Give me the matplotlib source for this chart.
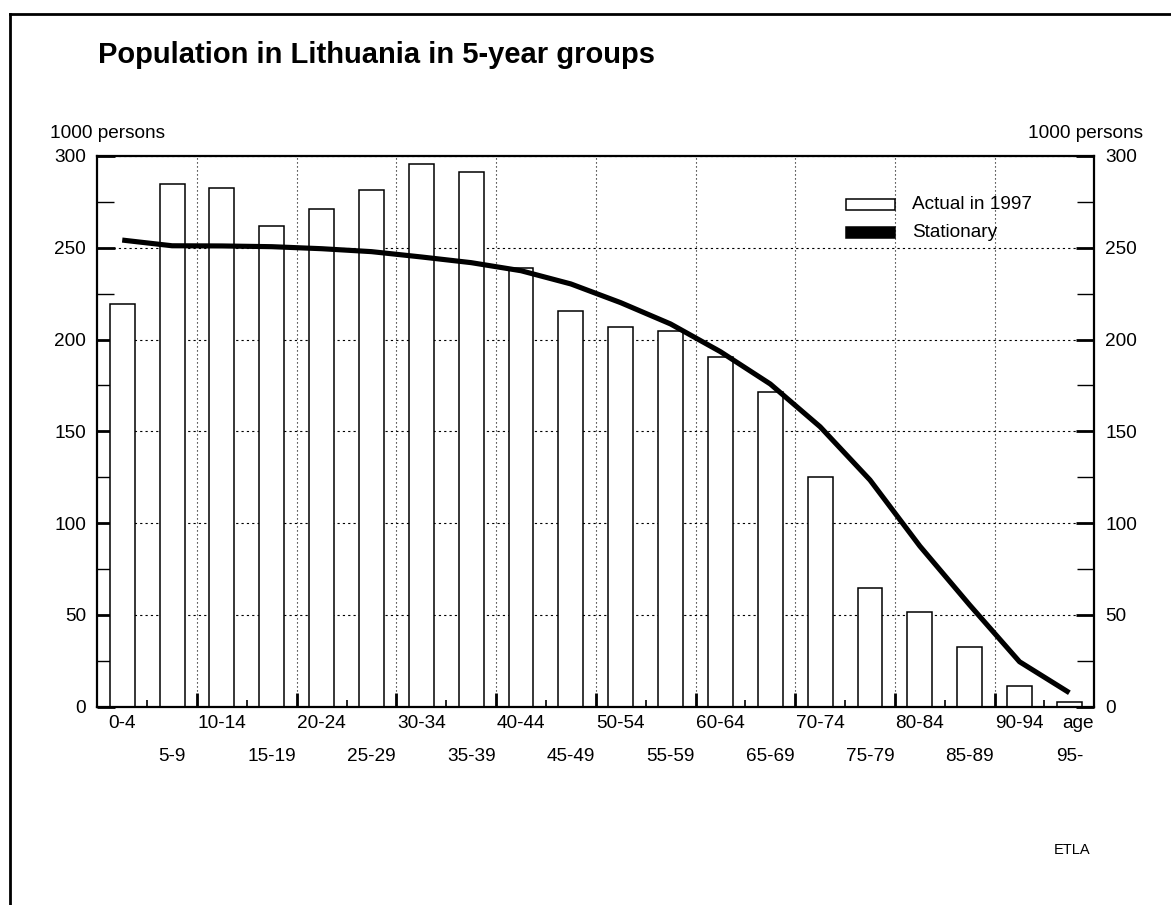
import matplotlib
matplotlib.use("Agg")
import matplotlib.pyplot as plt
from matplotlib.patches import Rectangle
from matplotlib.lines import Line2D
import numpy as np

plt.rcParams['font.family'] = ['Liberation Sans', 'DejaVu Sans']

age_groups = ["0-4", "5-9", "10-14", "15-19", "20-24", "25-29", "30-34", "35-39",
              "40-44", "45-49", "50-54", "55-59", "60-64", "65-69", "70-74", "75-79",
              "80-84", "85-89", "90-94", "95-"]
actual_1997 = [219.5, 284.9, 282.4, 261.7, 270.9, 281.6, 295.6, 291.3, 239.2, 215.6,
               206.8, 204.8, 190.5, 171.3, 125.3, 64.8, 51.8, 32.5, 11.4, 2.7]
stationary = [254.2, 251.1, 251.0, 250.6, 249.5, 247.9, 245.0, 241.9, 237.5, 230.3,
              220.1, 208.5, 193.4, 175.8, 152.5, 123.5, 87.5, 55.4, 24.5, 7.6]
y_ticks = [0, 50, 100, 150, 200, 250, 300]

FS = 13.7
fig = plt.figure(figsize=(11.71, 9.05), dpi=100)
ax = fig.add_axes([97.3/1171, 1-706.7/905, 997/1171, 550.7/905])

n = len(age_groups)
centers = np.arange(n) + 0.5

ax.bar(centers, actual_1997, width=0.5, facecolor='white', edgecolor='black',
       linewidth=1.1, zorder=2)
ax.plot(centers, stationary, color='black', linewidth=3.7, zorder=3,
        solid_joinstyle='round', solid_capstyle='butt')

ax.set_xlim(0, n)
ax.set_ylim(0, 300)

# y axis ticks both sides
ax.set_yticks(y_ticks)
ax.set_yticks(np.arange(25, 300, 50), minor=True)
ax.tick_params(axis='y', which='both', direction='in', left=True, right=True,
               labelleft=True, labelright=True, labelsize=FS, pad=8)
ax.tick_params(axis='y', which='major', length=13, width=2.0)
ax.tick_params(axis='y', which='minor', length=12, width=1.0)

# x axis tick marks at group boundaries
ax.set_xticks(np.arange(2, n, 2))
ax.set_xticks(np.arange(1, n, 2), minor=True)
ax.tick_params(axis='x', which='major', direction='in', length=10, width=2.0,
               labelbottom=False)
ax.tick_params(axis='x', which='minor', direction='in', length=5, width=1.2,
               labelbottom=False)

# grid
ax.set_axisbelow(True)
ax.yaxis.grid(True, which='major', color='black', linewidth=0.8,
              linestyle=(0, (2.0, 2.8)))
ax.xaxis.grid(True, which='major', color='black', linewidth=0.8,
              linestyle=(0, (1.0, 2.6)))

for s in ax.spines.values():
    s.set_linewidth(1.6)

# category labels in two rows
sec = ax.secondary_xaxis('bottom')
sec.spines['bottom'].set_visible(False)
top_pos = list(centers[0::2]) + [19.68]
top_lab = age_groups[0::2] + ["age"]
sec.set_xticks(top_pos, top_lab)
sec.set_xticks(centers[1::2], age_groups[1::2], minor=True)
sec.tick_params(axis='x', which='major', length=0, pad=6.3, labelsize=FS)
sec.tick_params(axis='x', which='minor', length=0, pad=30, labelsize=FS)

# unit labels
ax.text(-0.047, 1.04, "1000 persons", transform=ax.transAxes, fontsize=FS,
        ha='left', va='center')
ax.text(1.049, 1.04, "1000 persons", transform=ax.transAxes, fontsize=FS,
        ha='right', va='center')

# legend
ax.add_patch(Rectangle((15.01, 270.6), 1.0, 6.0, facecolor='white', edgecolor='black',
                       linewidth=1.1, zorder=4))
ax.add_patch(Rectangle((15.01, 255.3), 1.0, 6.0, facecolor='black', edgecolor='black',
                       linewidth=1.1, zorder=4))
ax.text(16.34, 273.6, "Actual in 1997", fontsize=FS, ha='left', va='center', zorder=4)
ax.text(16.34, 258.5, "Stationary", fontsize=FS, ha='left', va='center', zorder=4)

# title and source
fig.text(98/1171, 1-55/905, "Population in Lithuania in 5-year groups",
         fontsize=21, fontweight='bold', ha='left', va='center')
fig.text(1072/1171, 1-850/905, "ETLA", fontsize=10.5, ha='center', va='center')

# figure border (left and top)
fig.add_artist(Line2D([10/1171, 10/1171], [0, 1-14/905], color='black', linewidth=2,
                      transform=fig.transFigure))
fig.add_artist(Line2D([10/1171, 1], [1-14/905, 1-14/905], color='black', linewidth=2,
                      transform=fig.transFigure))

fig.savefig("out.png", dpi=100)
